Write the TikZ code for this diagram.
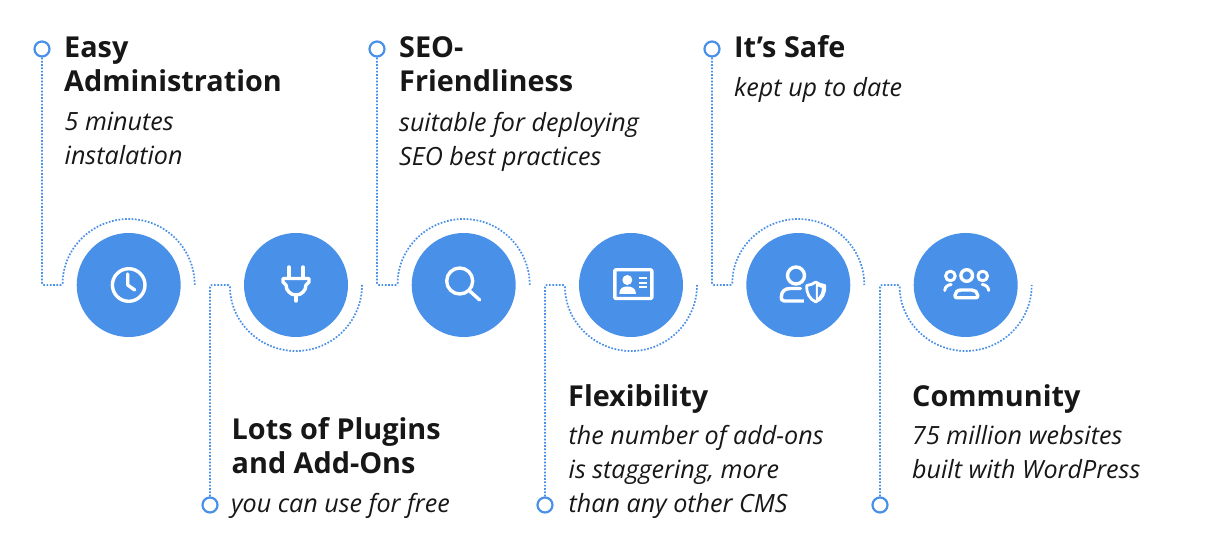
\documentclass[tikz,border=0pt]{standalone}
\usepackage{fontspec}
\setmainfont{Open Sans}
\definecolor{bubbleblue}{HTML}{4990E9}
\definecolor{headblack}{HTML}{171717}
\tikzset{
  bubble/.style={circle,fill=bubbleblue,minimum size=104pt,inner sep=0pt},
  dotring/.style={circle,draw=bubbleblue,line width=2.2pt,fill=white,minimum size=15pt,inner sep=0pt},
  dotline/.style={bubbleblue,line width=1.7pt,dash pattern=on 1.7pt off 1.6pt,rounded corners=2pt},
  headtext/.style={anchor=north west,inner sep=0pt,align=left,text=headblack,
    font=\fontsize{28.8}{34}\selectfont\bfseries,execute at begin node=\strut},
  subtext/.style={anchor=north west,inner sep=0pt,align=left,text=headblack,
    font=\fontsize{25.1}{34}\selectfont\itshape,execute at begin node=\strut},
  iconline/.style={white,line width=3.4pt,line cap=round,line join=round},
}
\begin{document}
\begin{tikzpicture}[x=1pt,y=-1pt]
        \useasboundingbox (0,0) rectangle (1211,534);
        \fill[white] (0,0) rectangle (1211,534);
        % bubbles
        \node[bubble] (c1) at (128.7,285) {};
        \node[bubble] (c2) at (296,285) {};
        \node[bubble] (c3) at (463.7,285) {};
        \node[bubble] (c4) at (631,285) {};
        \node[bubble] (c5) at (798.3,285) {};
        \node[bubble] (c6) at (965.7,285) {};
        % end rings
        \node[dotring] (d1) at (42,49) {};
        \node[dotring] (d2) at (210,505) {};
        \node[dotring] (d3) at (377,49) {};
        \node[dotring] (d4) at (545,505) {};
        \node[dotring] (d5) at (712,49) {};
        \node[dotring] (d6) at (880,505) {};
        % elbows
        \coordinate (e1) at (42,285);
        \coordinate (e2) at (210,285);
        \coordinate (e3) at (377,285);
        \coordinate (e4) at (545,285);
        \coordinate (e5) at (712,285);
        \coordinate (e6) at (880,285);
        % arc starts
        \coordinate (a1) at (62.7,285);
        \coordinate (a2) at (230,285);
        \coordinate (a3) at (397.7,285);
        \coordinate (a4) at (565,285);
        \coordinate (a5) at (732.3,285);
        \coordinate (a6) at (899.7,285);
        \draw[dotline] (d1) -- (e1) -- (a1) arc (180:360:66);
        \draw[dotline] (d2) -- (e2) -- (a2) arc (180:0:66);
        \draw[dotline] (d3) -- (e3) -- (a3) arc (180:360:66);
        \draw[dotline] (d4) -- (e4) -- (a4) arc (180:0:66);
        \draw[dotline] (d5) -- (e5) -- (a5) arc (180:360:66);
        \draw[dotline] (d6) -- (e6) -- (a6) arc (180:0:66);
        % clock
        \begin{scope}[shift={(c1)}]
                \draw[iconline] (0,0) circle (16.3);
                \draw[iconline] (-1,-11) -- (-1,0) -- (6,5);
        \end{scope}
        % plug
        \begin{scope}[shift={(c2)}]
                \draw[iconline] (-7,-18) -- (-7,-8);
                \draw[iconline] (7,-18) -- (7,-8);
                \draw[iconline] (-13,-6.5) -- (13,-6.5) -- (13,-3) -- (10,0) arc (0:180:10) -- (-13,-3) -- cycle;
                \draw[iconline] (0,10) -- (0,16);
        \end{scope}
        % search
        \begin{scope}[shift={(c3)}]
                \draw[iconline] (-4,-4) circle (13);
                \draw[iconline] (6,6) -- (16,15);
        \end{scope}
        % id card
        \begin{scope}[shift={(c4)}]
                \draw[iconline,line cap=butt,rounded corners=1pt] (-16.2,-15.2) rectangle (20.8,13.5);
                \fill[white] (-3.7,-5) circle (5);
                \fill[white] (-11.7,9) .. controls (-11.7,3) and (-8,1.5) .. (-3.7,1.5)
                        .. controls (0.5,1.5) and (5,3) .. (5,9) -- cycle;
                \draw[white,line width=2pt] (7.5,-6.7) -- (15.7,-6.7);
                \draw[white,line width=2pt] (7.5,-2.2) -- (15.7,-2.2);
                \draw[white,line width=2pt] (7.5,2.3) -- (15.7,2.3);
        \end{scope}
        % user with shield
        \begin{scope}[shift={(c5)}]
                \draw[iconline] (-2.3,-9.5) circle (8.5);
                \draw[iconline] (9,16) -- (-14,16) .. controls (-17,16) and (-17,14) .. (-17,12)
                        .. controls (-17,6) and (-13,3.5) .. (-8,3.5) -- (2,3.5);
                \fill[bubbleblue] (6,1) rectangle (30,20);
                \draw[iconline,line width=2.8pt] (17.5,-3) .. controls (20,-1) and (23,0) .. (26.5,0.5)
                        .. controls (27,8) and (24,14) .. (17.5,17)
                        .. controls (11,14) and (8,8) .. (8.5,0.5)
                        .. controls (12,0) and (15,-1) .. cycle;
                \fill[white] (17.5,-3) .. controls (20,-1) and (23,0) .. (26.5,0.5)
                        .. controls (27,8) and (24,14) .. (17.5,17) -- cycle;
                \fill[bubbleblue] (19.5,1.5) .. controls (20.5,2) and (22,2.5) .. (23.5,3)
                        .. controls (23.5,7) and (22,10.5) .. (19.5,13) -- cycle;
        \end{scope}
        % community
        \begin{scope}[shift={(c6)}]
                \draw[iconline] (1,-9.5) circle (5.8);
                \draw[iconline,line width=3pt] (-15.3,-9) circle (4.8);
                \draw[iconline,line width=3pt] (17,-9) circle (4.8);
                \draw[iconline] (-8.5,12.8) -- (10,12.8) .. controls (11.5,12.8) and (12,12) .. (12,11) -- (12,10)
                        .. controls (12,7) and (9,5) .. (6,5) -- (-4.5,5)
                        .. controls (-8,5) and (-10.6,7) .. (-10.6,10) -- (-10.6,11)
                        .. controls (-10.6,12) and (-10,12.8) .. cycle;
                \draw[iconline,line width=3pt] (-21,5.5) .. controls (-20.5,1.5) and (-18,0) .. (-14.5,-0.5);
                \draw[iconline,line width=3pt] (23,5.5) .. controls (22.5,1.5) and (20,0) .. (16.5,-0.5);
        \end{scope}
        % texts
        \node[headtext] (h1) at (64,36.4) {Easy\\Administration};
        \node[subtext] (s1) at (64.5,112.2) {5 minutes\\instalation};
        \node[headtext] (h2) at (231.5,417) {Lots of Plugins\\and Add-Ons};
        \node[subtext] (s2) at (231,489) {you can use for free};
        \node[headtext] (h3) at (399,36.4) {SEO-\\Friendliness};
        \node[subtext] (s3) at (399,112) {suitable for deploying\\SEO best practices};
        \node[headtext] (h4) at (568,382.5) {Flexibility};
        \node[subtext] (s4) at (568.5,425.3) {the number of add-ons\\is staggering, more\\than any other CMS};
        \node[headtext] (h5) at (734,33.2) {It’s Safe};
        \node[subtext] (s5) at (734,73) {kept up to date};
        \node[headtext] (h6) at (912,382.5) {Community};
        \node[subtext] (s6) at (912,425.3) {75 million websites\\built with WordPress};
\end{tikzpicture}
\end{document}
